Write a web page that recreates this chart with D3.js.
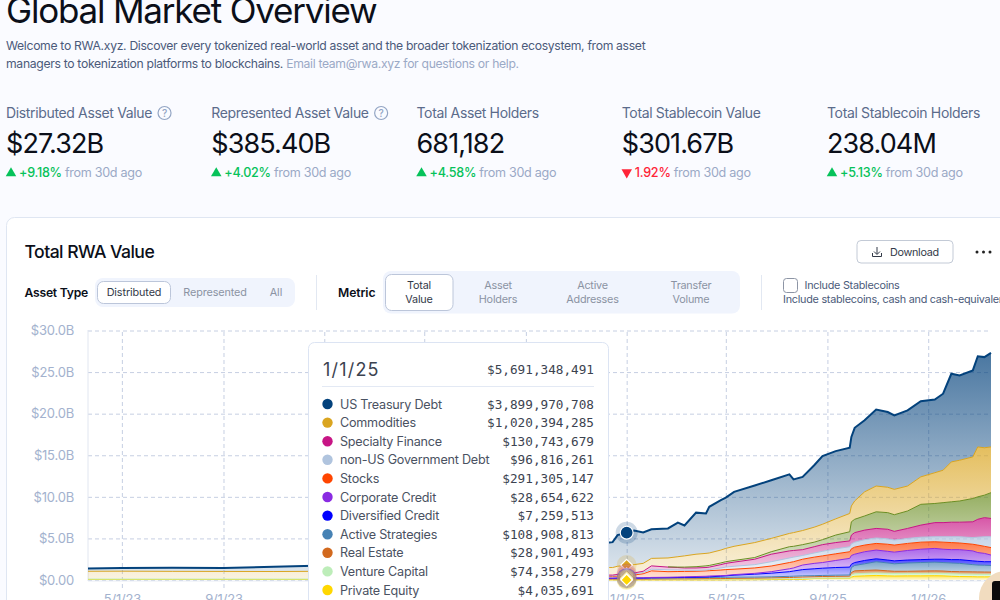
<!DOCTYPE html>
<html><head><meta charset="utf-8">
<script src="https://cdn.jsdelivr.net/npm/d3@7/dist/d3.min.js"></script>
<style>
html,body{margin:0;padding:0;width:1000px;height:600px;overflow:hidden;background:#fafbff}
svg{display:block;font-family:Inter,"Noto Sans",sans-serif}
.mono{font-family:"DejaVu Sans Mono",monospace}
</style></head><body><svg id="c" width="1000" height="600"></svg>
<script>
// ---------- chart data (values in $B) ----------
const dates=["2023-03-21","2023-05-01","2023-07-01","2023-09-01","2023-11-01","2024-01-01","2024-04-01","2024-07-01","2024-10-01","2024-12-11","2024-12-15","2024-12-21","2025-01-01",
"2025-01-10","2025-01-21","2025-01-31","2025-02-20","2025-03-04","2025-03-12","2025-03-26","2025-04-07","2025-04-11","2025-04-25","2025-05-01","2025-05-11","2025-06-05","2025-06-25","2025-07-17","2025-07-22","2025-08-02","2025-08-16","2025-08-26","2025-09-11","2025-09-28","2025-09-30","2025-10-04","2025-10-16","2025-10-30","2025-11-13","2025-11-21","2025-12-07","2025-12-23","2026-01-09","2026-01-19","2026-01-29","2026-02-08","2026-02-24","2026-03-02","2026-03-10","2026-03-18"];
const privateEquity=[.06,.06,.06,.06,.06,.06,.03,.01,.01,.004,.004,.004,.004,.004,.004,.005,.005,.005,.005,.006,.006,.006,.01,.01,.02,.03,.05,.06,.06,.07,.18,.19,.2,.2,.35,.45,.5,.55,.5,.48,.5,.5,.52,.5,.45,.42,.4,.38,.38,.38];
const ventureCapital=[.05,.05,.05,.05,.05,.05,.08,.08,.07,.07,.07,.072,.074,.074,.076,.08,.085,.095,.095,.094,.094,.094,.1,.1,.1,.1,.09,.09,.09,.09,.04,.04,.04,.04,.25,.3,.3,.3,.3,.3,.3,.3,.3,.3,.3,.3,.3,.3,.3,.3];
const realEstate=[0,0,0,0,0,0,.03,.03,.03,.03,.03,.029,.029,.029,.03,.035,.04,.04,.04,.05,.06,.06,.06,.07,.08,.09,.12,.15,.17,.2,.18,.19,.2,.22,.3,.35,.35,.35,.3,.27,.25,.28,.28,.28,.27,.28,.28,.29,.28,.27];
const activeStrategies=[0,0,0,0,0,0,.02,.04,.06,.09,.09,.1,.109,.109,.11,.12,.12,.12,.13,.13,.14,.14,.15,.15,.14,.13,.12,.14,.14,.14,.12,.13,.14,.14,.6,.65,.8,1.0,.95,.9,1.0,1.02,1.05,1.02,1.03,1.0,.87,.83,.82,.8];
const diversifiedCredit=[0,0,0,0,0,0,.01,.01,.01,.006,.006,.007,.007,.007,.01,.02,.03,.04,.04,.05,.06,.08,.14,.17,.24,.35,.44,.56,.62,.75,.83,.87,.92,.95,.4,.35,.4,.35,.35,.35,.35,.35,.35,.4,.4,.45,.45,.45,.42,.45];
const corporateCredit=[0,0,0,0,0,0,.01,.01,.02,.02,.02,.025,.029,.029,.03,.05,.05,.06,.07,.09,.09,.1,.06,.05,.07,.1,.18,.35,.37,.55,.65,.68,.85,1.05,1.05,1.0,1.05,1.05,1.05,1.05,1.15,1.25,1.3,1.2,1.2,1.2,1.2,1.05,1.0,.8];
const stocks=[0,0,0,0,0,0,.02,.05,.10,.2,.2,.24,.291,.348,.49,.79,.67,.66,.65,.63,.65,.64,.68,.7,.65,.65,.68,.75,.75,.7,.75,.8,.8,.8,.8,.85,.8,.8,.85,.85,.85,.85,.8,.85,.85,.8,.8,.9,.85,.9];
const nonUsGovDebt=[0,0,0,0,0,0,.04,.05,.06,.07,.07,.08,.097,.12,.15,.2,.22,.18,.15,.1,.1,.13,.25,.3,.35,.4,.52,.55,.55,.45,.5,.55,.6,.6,.6,.6,.65,.65,.65,.6,.6,.6,.6,.65,.7,.75,.8,.95,1.15,1.3];
const specialtyFinance=[0,0,0,0,0,0,.05,.07,.09,.10,.10,.115,.131,.13,.15,.4,.33,.3,.27,.3,.3,.3,.4,.45,.5,.65,.9,.85,.8,.7,.75,.8,.75,.7,1.05,1.15,1.15,1.15,1.15,1.05,1.2,1.45,1.7,1.7,1.75,1.75,1.9,2.15,2.3,2.2];
const alternativeFunds=[0,0,0,0,0,0,0,0,0,0,0,0,0,0,0,0,.03,.05,.1,.15,.2,.2,.2,.2,.2,.2,.3,.5,.5,.6,.55,.6,.9,1.1,1.6,1.6,1.7,2.0,2.0,2.0,2.1,2.5,2.3,2.4,2.45,2.55,2.8,2.7,2.7,3.1];
const commodities=[.94,.95,.93,.92,.91,.94,.90,.95,1.0,.91,.91,.98,1.02,1.0,.95,.9,1.07,1.25,1.35,1.5,1.5,1.5,1.55,1.6,1.7,1.8,1.6,1.6,1.65,1.7,1.8,1.85,1.95,2.2,1.9,2.2,2.9,3.1,3.05,3.05,3.0,3.3,3.7,3.9,4.8,4.9,5.0,6.0,5.7,5.5];
const usTreasuryDebt=[.33,.38,.44,.42,.58,.70,1.1,1.7,2.2,3.02,3.05,3.75,3.90,4.1,3.72,3.5,3.55,4.1,3.66,5.0,4.8,5.55,6.0,6.1,6.55,6.86,7.0,7.1,6.4,6.45,7.45,8.2,8.15,7.9,8.3,8.8,8.6,9.2,9.05,8.9,9.1,9.1,8.8,9.2,10.6,10.2,10.4,10.9,10.9,11.3];
const stackOrder=[privateEquity,ventureCapital,realEstate,activeStrategies,diversifiedCredit,corporateCredit,stocks,nonUsGovDebt,specialtyFinance,alternativeFunds,commodities,usTreasuryDebt];
const stackColors=["#FFD700","#BDEDB9","#D2691E","#4682B4","#0000FF","#8A2BE2","#FF4500","#B0C4DE","#C71585","#6B8E23","#DAA520","#03427C"];
const yTicks=[0,5,10,15,20,25,30];
const xTicks=["2023-05-01","2023-09-01","2024-01-01","2024-05-01","2024-09-01","2025-01-01","2025-05-01","2025-09-01","2026-01-01"];
const hoverDate="2025-01-01";
// ---------- tooltip ----------
const tipNames=["US Treasury Debt","Commodities","Specialty Finance","non-US Government Debt","Stocks","Corporate Credit","Diversified Credit","Active Strategies","Real Estate","Venture Capital","Private Equity"];
const tipValues=["$3,899,970,708","$1,020,394,285","$130,743,679","$96,816,261","$291,305,147","$28,654,622","$7,259,513","$108,908,813","$28,901,493","$74,358,279","$4,035,691"];
const tipColors=["#03427C","#DAA520","#C71585","#B0C4DE","#FF4500","#8A2BE2","#0000FF","#4682B4","#D2691E","#BDEDB9","#FFD700"];
// ---------- page text ----------
const kpiLabels=["Distributed Asset Value","Represented Asset Value","Total Asset Holders","Total Stablecoin Value","Total Stablecoin Holders"];
const kpiValues=["$27.32B","$385.40B","681,182","$301.67B","238.04M"];
const kpiDeltas=["+9.18%","+4.02%","+4.58%","1.92%","+5.13%"];
const kpiUp=[true,true,true,false,true];
const kpiHelp=[true,true,false,false,false];

const svg=d3.select("#c");
const text=(s,x,y,size,fill,o={})=>svg.append("text").attr("x",x).attr("y",y).attr("font-size",size).attr("fill",fill)
  .attr("font-weight",o.w||400).attr("text-anchor",o.a||"start").attr("class",o.c||null).attr("letter-spacing",o.ls||null).text(s);
const rr=(x,y,w,h,r,fill,stroke)=>svg.append("rect").attr("x",x).attr("y",y).attr("width",w).attr("height",h).attr("rx",r).attr("fill",fill).attr("stroke",stroke||"none");

// header
text("Global Market Overview",6,23,35,"#0b0f19",{ls:-1.2});
text("Welcome to RWA.xyz. Discover every tokenized real-world asset and the broader tokenization ecosystem, from asset",6,50,12.2,"#4b5a7a",{ls:-.32});
const l2=text("managers to tokenization platforms to blockchains. ",6,68,12.2,"#4b5a7a",{ls:-.32});
l2.append("tspan").attr("fill","#9aa9c6").text("Email team@rwa.xyz for questions or help.");

// KPI row
kpiLabels.forEach((lab,i)=>{
  const x=6+i*205.25;
  const t=text(lab,x,118,14,"#5b6b8b",{ls:-.35});
  if(kpiHelp[i]){const w=t.node().getComputedTextLength();
    svg.append("circle").attr("cx",x+w+12.5).attr("cy",113).attr("r",6.5).attr("fill","none").attr("stroke","#93a5c4").attr("stroke-width",1.2);
    text("?",x+w+12.5,116.7,10,"#93a5c4",{a:"middle",w:500});}
  text(kpiValues[i],x,153,27,"#0b0f19",{ls:-.9});
  const col=kpiUp[i]?"#06c25a":"#ff2438";
  svg.append("path").attr("d",d3.symbol(d3.symbolTriangle,48)).attr("fill",col)
    .attr("transform",`translate(${x+5},${kpiUp[i]?173.3:172.3}) rotate(${kpiUp[i]?0:180})`);
  const d=text(kpiDeltas[i],x+13,177,12.6,col,{ls:-.25,w:500});
  text("from 30d ago",x+13+d.node().getComputedTextLength()+3,177,12.6,"#9aa9c6",{ls:-.3});
});

// card
rr(6.5,217.5,1100,500,8,"#fff","#dfe6f2");
text("Total RWA Value",24.5,258,17.6,"#0b0f19",{w:500,ls:-.55});
rr(857,240.5,96,22.5,4,"#fff","#c3cad6");
svg.append("path").attr("d","M877 247v7M874 251.5l3 3 3-3M872.5 253v3.5h9V253").attr("fill","none").attr("stroke","#333a48").attr("stroke-width",1);
text("Download",890,255.5,10.8,"#333a48",{ls:-.3});
[977,983.5,990].forEach(x=>svg.append("circle").attr("cx",x).attr("cy",252).attr("r",1.5).attr("fill","#222"));

text("Asset Type",24.5,297,12.2,"#0b0f19",{w:600,ls:-.25});
rr(95,278,200,29,8,"#f0f4fd");
rr(97.5,281.5,73,22,6,"#fff","#bcc6da");
text("Distributed",134,296,10.8,"#333a48",{a:"middle",ls:-.1});
text("Represented",215,296,10.8,"#8b93a3",{a:"middle",ls:-.1});
text("All",276,296,10.8,"#8b93a3",{a:"middle"});
svg.append("line").attr("x1",316.5).attr("x2",316.5).attr("y1",275).attr("y2",310).attr("stroke","#e2e8f2");
text("Metric",338,297,12.2,"#0b0f19",{w:600,ls:-.1});
rr(383,271,357,42.5,8,"#f0f4fd");
rr(385.5,274.5,67.5,36,6,"#fff","#bcc6da");
[["Total","Value",419,"#333a48"],["Asset","Holders",498,"#8b93a3"],["Active","Addresses",592.5,"#8b93a3"],["Transfer","Volume",691,"#8b93a3"]].forEach(m=>{
  text(m[0],m[2],289,10.8,m[3],{a:"middle",ls:-.2});
  text(m[1],m[2],303,10.8,m[3],{a:"middle",ls:-.2});
});
svg.append("line").attr("x1",761.5).attr("x2",761.5).attr("y1",275).attr("y2",310).attr("stroke","#e2e8f2");
rr(783.5,278.5,14,14,3,"#fff","#8d95a5");
text("Include Stablecoins",804.5,289,10.8,"#4b5a7a",{ls:-.25});
text("Include stablecoins, cash and cash-equivalents",783,303,10.8,"#4b5a7a",{ls:-.25});

// scales + axes
const parse=d3.utcParse("%Y-%m-%d");
const x=d3.scaleUtc().domain([parse(dates[0]),parse(dates[dates.length-1])]).range([88,991]);
const y=d3.scaleLinear().domain([0,30]).range([580,330.5]);
const fmtX=d=>`${d.getUTCMonth()+1}/${d.getUTCDate()}/${String(d.getUTCFullYear()).slice(2)}`;
const fmtY=v=>v===0?"$0.00":`$${v.toFixed(1)}B`;
const gy=svg.append("g").attr("transform","translate(88,0)")
  .call(d3.axisLeft(y).tickValues(yTicks).tickFormat(fmtY).tickSize(-903).tickPadding(14));
const gx=svg.append("g").attr("transform","translate(0,588)")
  .call(d3.axisBottom(x).tickValues(xTicks.map(parse)).tickFormat(fmtX).tickSize(-258).tickPadding(7));
[gy,gx].forEach(g=>{g.select(".domain").remove();
  g.selectAll("line").attr("stroke","#c6cfe2").attr("stroke-dasharray","4 3");
  g.selectAll("text").attr("fill","#a3b2ce").attr("font-size",13).attr("letter-spacing",-.2).attr("font-family","Inter,sans-serif");});
// the tick labels that sit behind the tooltip are not visible in the picture
gx.selectAll(".tick text").filter(d=>x(d)>308&&x(d)<609).remove();
svg.append("line").attr("x1",88).attr("x2",88).attr("y1",330).attr("y2",581).attr("stroke","#e1e6f0");
svg.append("line").attr("x1",88).attr("x2",991).attr("y1",581).attr("y2",581).attr("stroke","#e8ecf4");

// stack
const table=dates.map((d,i)=>{const r={date:parse(d)};stackOrder.forEach((s,k)=>r[k]=s[i]);return r;});
const stacked=d3.stack().keys(stackOrder.map((_,k)=>k))(table);
const defs=svg.append("defs");
stackColors.forEach((c,k)=>{
  const g=defs.append("linearGradient").attr("id","g"+k).attr("x1",0).attr("x2",0).attr("y1",0).attr("y2",1);
  g.append("stop").attr("offset",0).attr("stop-color",c).attr("stop-opacity",.72);
  g.append("stop").attr("offset",1).attr("stop-color",c).attr("stop-opacity",.14);
});
const area=d3.area().x(d=>x(d.data.date)).y0(d=>y(d[0])).y1(d=>y(d[1]));
const line=d3.line().defined(d=>d[1]-d[0]>0).x(d=>x(d.data.date)).y(d=>y(d[1]));
svg.append("g").selectAll("path").data(stacked).join("path").attr("d",area).attr("fill",(d,k)=>`url(#g${k})`);
svg.append("g").selectAll("path").data(stacked).join("path").attr("d",line).attr("fill","none")
  .attr("stroke",(d,k)=>stackColors[k]).attr("stroke-width",(d,k)=>k===11?2:1);

// hover markers
const hi=dates.indexOf(hoverDate);
const mk=svg.append("g");
d3.range(11,-1,-1).forEach(k=>{
  if(stackOrder[k][hi]===0)return;
  const t=`translate(${x(parse(hoverDate))},${y(stacked[k][hi][1])})`;
  mk.append("circle").attr("transform",t).attr("r",k===11?11:10).attr("fill",stackColors[k]).attr("fill-opacity",.2);
  mk.append("path").attr("transform",t).attr("d",d3.symbol(k===11?d3.symbolCircle:d3.symbolDiamond2,k===11?130:85))
    .attr("fill",stackColors[k]).attr("stroke","#fff").attr("stroke-width",1.2);
});

// tooltip
rr(308.5,342.5,300,300,6,"#fff","#dce4f3");
text("1/1/25",323,376,18,"#3c4350",{ls:1.2});
text("$5,691,348,491",594,374,12.7,"#3c4350",{a:"end",c:"mono"});
svg.append("line").attr("x1",322).attr("x2",594).attr("y1",386.5).attr("y2",386.5).attr("stroke","#e3e9f4").attr("stroke-width",1.2);
tipNames.forEach((n,i)=>{
  const cy=404+i*18.6;
  svg.append("circle").attr("cx",327.5).attr("cy",cy).attr("r",5.2).attr("fill",tipColors[i]);
  text(n,340,cy+4.5,12.6,"#4a5262",{ls:-.22});
  text(tipValues[i],594,cy+4.5,12.7,"#3c4350",{a:"end",c:"mono"});
});

// corner widget
svg.append("circle").attr("cx",1006).attr("cy",598).attr("r",27).attr("fill","#f1dcbf");
rr(992,581,20,22,3,"#0b0b0b");
</script></body></html>
